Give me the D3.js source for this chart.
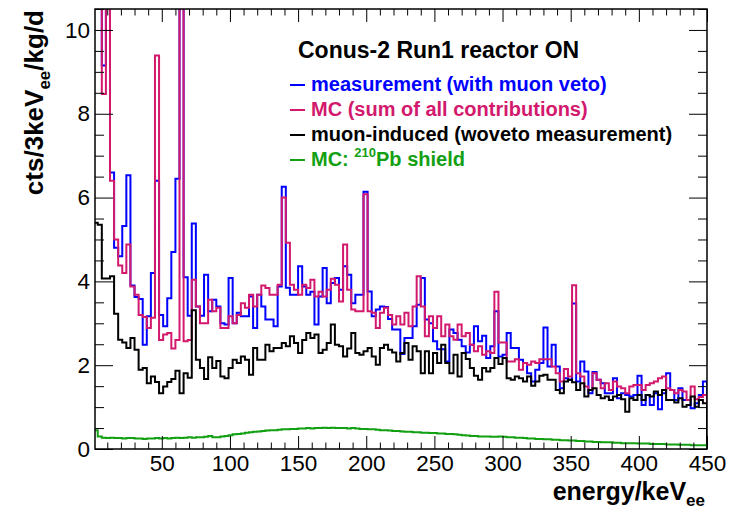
<!DOCTYPE html>
<html>
<head>
<meta charset="utf-8">
<script src="https://cdnjs.cloudflare.com/ajax/libs/d3/7.8.5/d3.min.js"></script>
<style>
  body { margin: 0; background: #fff; }
  text { font-family: "Liberation Sans", Arial, Helvetica, sans-serif; }
</style>
</head>
<body>
<div id="chart"></div>
<script>
// 3 keV bins from 0 to 450 keV, cts/3keV/kg/d
var binWidth = 3;

var measurement = [
  16, 12, 9.15, 11.5, 6.6, 4.8, 4.6, 5.32, 6.53, 3.9,
  3.63, 3.58, 2.49, 3.17, 4.2, 6.4, 3.2, 2.93, 3.6, 4.7,
  6.45, 13, 4.1, 3.18, 5.38, 3.4, 3.18, 4.16, 3.29, 3.56,
  3.4, 3.0, 2.97, 4.08, 3.0, 3.25, 3.17, 3.17, 3.64, 2.89,
  3.68, 3.4, 3.09, 3.09, 2.93, 3.88, 6.26, 3.85, 3.68, 3.68,
  4.36, 3.88, 3.68, 3.75, 2.97, 3.64, 4.32, 3.48, 3.96, 4.08,
  3.8, 4.36, 4.16, 3.48, 3.68, 3.68, 6.14, 3.76, 3.17, 3.33,
  3.4, 3.39, 3.1, 2.85, 2.85, 2.27, 2.65, 2.65, 2.93, 3.44,
  4.08, 3.09, 3.0, 2.57, 2.38, 2.38, 2.09, 2.85, 2.77, 2.61,
  2.45, 2.3, 2.49, 2.93, 2.57, 2.7, 2.17, 2.45, 3.29, 2.21,
  2.25, 2.77, 2.41, 2.41, 2.13, 2.05, 1.81, 1.61, 1.89, 2.05,
  2.9, 1.97, 2.49, 1.97, 1.45, 1.69, 1.65, 3.47, 1.61, 2.09,
  1.85, 1.33, 1.84, 1.65, 1.57, 1.33, 1.33, 1.69, 1.21, 1.33,
  1.29, 1.25, 1.29, 1.75, 1.05, 1.29, 1.05, 1.33, 0.95, 1.33,
  1.81, 1.41, 1.17, 1.45, 1.17, 1.17, 0.97, 1.09, 1.29, 1.61
];

var mcSum = [
  16, 13, 8.47, 12, 6.4, 5.0, 4.38, 4.2, 4.88, 3.88,
  3.68, 3.2, 3.15, 2.89, 3.13, 9.39, 2.6, 2.73, 2.77, 2.4,
  2.6, 13, 2.57, 2.6, 4.04, 3.4, 3.0, 3.0, 3.56, 3.29,
  3.37, 2.89, 2.89, 3.17, 3.0, 3.2, 3.48, 3.37, 3.68, 3.4,
  3.68, 3.9, 3.84, 3.68, 3.68, 3.92, 6.0, 4.92, 3.92, 3.8,
  3.68, 3.92, 3.84, 4.04, 3.64, 3.75, 3.64, 3.8, 4.06, 3.92,
  3.52, 4.88, 3.8, 3.33, 3.29, 3.29, 6.08, 3.29, 3.25, 2.89,
  3.25, 3.37, 3.2, 2.97, 3.17, 2.97, 3.25, 2.93, 3.4, 4.12,
  3.4, 2.69, 3.17, 2.89, 3.17, 2.69, 2.97, 2.69, 2.61, 2.97,
  2.69, 2.77, 2.49, 2.33, 2.45, 2.25, 2.33, 2.29, 3.75, 2.54,
  2.54, 2.09, 2.09, 2.14, 1.89, 2.05, 2.01, 2.09, 2.05, 2.14,
  2.14, 2.14, 1.97, 1.81, 1.61, 1.91, 1.73, 3.91, 1.81, 1.73,
  1.49, 1.41, 1.81, 1.65, 1.45, 1.57, 1.41, 1.61, 1.49, 1.45,
  1.33, 1.49, 1.53, 1.53, 1.41, 1.53, 1.57, 1.61, 1.69, 1.73,
  1.45, 1.41, 1.33, 1.41, 1.37, 1.17, 1.49, 1.19, 1.24, 1.29
];

var muonInduced = [
  5.4, 5.35, 4.07, 4.07, 4.12, 3.23, 2.61, 2.54, 2.41, 2.65,
  2.37, 1.89, 1.93, 1.57, 1.73, 1.6, 1.33, 1.49, 1.6, 1.67,
  1.87, 1.33, 1.81, 1.7, 3.31, 2.13, 1.93, 1.67, 2.19, 1.93,
  2.1, 1.73, 1.69, 1.93, 2.13, 2.05, 2.21, 2.13, 1.77, 2.41,
  2.13, 2.13, 2.49, 2.33, 2.41, 2.41, 2.53, 2.45, 2.69, 2.53,
  2.29, 2.6, 2.77, 2.65, 2.73, 2.29, 2.37, 2.53, 2.97, 2.49,
  2.45, 2.21, 2.4, 2.77, 2.29, 2.25, 2.33, 2.41, 2.21, 2.01,
  2.41, 2.49, 2.37, 2.3, 2.09, 2.29, 2.53, 2.13, 2.45, 2.33,
  1.81, 2.33, 1.81, 2.29, 2.05, 2.49, 2.05, 1.81, 2.25, 1.73,
  2.29, 2.15, 1.93, 1.75, 1.65, 1.93, 1.85, 1.93, 2.17, 2.03,
  2.17, 1.69, 1.65, 1.73, 1.69, 1.61, 1.73, 1.51, 1.61, 1.75,
  1.77, 1.65, 1.65, 1.41, 1.33, 1.61, 1.65, 1.59, 1.41, 1.57,
  1.25, 1.41, 1.45, 1.29, 1.21, 1.25, 1.17, 1.25, 1.29, 1.19,
  0.89, 1.21, 1.17, 1.29, 1.17, 1.29, 1.25, 1.37, 1.29, 1.41,
  1.17, 1.17, 1.11, 1.21, 1.01, 1.05, 1.25, 1.01, 1.17, 1.09
];

var pb210Shield = [
  0.45, 0.3, 0.27, 0.26, 0.27, 0.26, 0.26, 0.25, 0.26, 0.26,
  0.25, 0.25, 0.24, 0.25, 0.25, 0.26, 0.25, 0.26, 0.25, 0.26,
  0.27, 0.26, 0.27, 0.28, 0.27, 0.28, 0.28, 0.29, 0.31, 0.28,
  0.28, 0.3, 0.31, 0.33, 0.35, 0.36, 0.37, 0.39, 0.4, 0.41,
  0.42, 0.43, 0.44, 0.45, 0.45, 0.46, 0.47, 0.47, 0.48, 0.48,
  0.49, 0.49, 0.5, 0.49, 0.5, 0.5, 0.51, 0.5, 0.51, 0.5,
  0.5, 0.5, 0.49, 0.5, 0.49, 0.48, 0.48, 0.47, 0.47, 0.46,
  0.45, 0.45, 0.44, 0.43, 0.43, 0.42, 0.41, 0.41, 0.4, 0.4,
  0.39, 0.39, 0.38, 0.38, 0.37, 0.37, 0.36, 0.36, 0.35, 0.34,
  0.33, 0.32, 0.31, 0.31, 0.3, 0.3, 0.3, 0.29, 0.29, 0.3,
  0.29, 0.28, 0.28, 0.27, 0.27, 0.26, 0.25, 0.25, 0.24, 0.24,
  0.23, 0.23, 0.22, 0.22, 0.21, 0.21, 0.2, 0.2, 0.19, 0.19,
  0.18, 0.18, 0.17, 0.17, 0.16, 0.16, 0.16, 0.15, 0.15, 0.14,
  0.14, 0.14, 0.14, 0.13, 0.13, 0.13, 0.12, 0.12, 0.12, 0.12,
  0.11, 0.11, 0.11, 0.1, 0.1, 0.1, 0.09, 0.09, 0.09, 0.09
];

var xMajorTicks = [50, 100, 150, 200, 250, 300, 350, 400, 450];
var yMajorTicks = [0, 2, 4, 6, 8, 10];

var legendTitle = 'Conus-2 Run1 reactor ON';
var series = [
  { name: 'measurement (with muon veto)', values: measurement, color: '#0000ff' },
  { name: 'MC (sum of all contributions)', values: mcSum, color: '#d3196d' },
  { name: 'muon-induced (woveto measurement)', values: muonInduced, color: '#000000' },
  { name: 'Pb shield', values: pb210Shield, color: '#13a013' }
];

var W = 738, H = 509;
var frame = { left: 95, right: 707, top: 9, bottom: 449 };

var x = d3.scaleLinear().domain([1, 450]).range([frame.left, frame.right]);
var y = d3.scaleLinear().domain([0, 10.5]).range([frame.bottom, frame.top]);

var xMinorTicks = d3.range(10, 451, 10).filter(function(d) { return d % 50 !== 0; });
var yMinorTicks = d3.range(0.5, 10.51, 0.5).filter(function(d) { return d % 2 !== 0; });

var svg = d3.select('#chart')
  .append('svg')
  .attr('width', W)
  .attr('height', H);

svg.append('clipPath').attr('id', 'frameclip')
  .append('rect')
  .attr('x', frame.left).attr('y', frame.top)
  .attr('width', frame.right - frame.left)
  .attr('height', frame.bottom - frame.top);

// step outline of a histogram, like ROOT "HIST"
function histPoints(values) {
  var pts = [[0, 0]];
  values.forEach(function(v, i) {
    pts.push([i * binWidth, v]);
    pts.push([(i + 1) * binWidth, v]);
  });
  pts.push([values.length * binWidth, 0]);
  return pts;
}

var line = d3.line()
  .x(function(d) { return x(d[0]); })
  .y(function(d) { return y(d[1]); });

var plot = svg.append('g').attr('clip-path', 'url(#frameclip)');

plot.selectAll('.hist')
  .data(series)
  .enter().append('path')
  .attr('class', 'hist')
  .attr('d', function(d) { return line(histPoints(d.values)); })
  .attr('fill', 'none')
  .attr('stroke', function(d) { return d.color; })
  .attr('stroke-width', 2)
  .attr('stroke-linejoin', 'miter');

// axes, ticks inside the frame on all four sides
function noLabels() { return ''; }

var axes = svg.append('g').attr('class', 'axes');

axes.append('g')
  .attr('transform', 'translate(0,' + frame.bottom + ')')
  .call(d3.axisBottom(x).tickValues(xMajorTicks).tickSize(-13).tickPadding(6));
axes.append('g')
  .attr('transform', 'translate(0,' + frame.bottom + ')')
  .call(d3.axisBottom(x).tickValues(xMinorTicks).tickSize(-6.5).tickFormat(noLabels));
axes.append('g')
  .attr('transform', 'translate(0,' + frame.top + ')')
  .call(d3.axisTop(x).tickValues(xMajorTicks).tickSize(-13).tickFormat(noLabels));
axes.append('g')
  .attr('transform', 'translate(0,' + frame.top + ')')
  .call(d3.axisTop(x).tickValues(xMinorTicks).tickSize(-6.5).tickFormat(noLabels));

axes.append('g')
  .attr('transform', 'translate(' + frame.left + ',0)')
  .call(d3.axisLeft(y).tickValues(yMajorTicks).tickSize(-18).tickPadding(5));
axes.append('g')
  .attr('transform', 'translate(' + frame.left + ',0)')
  .call(d3.axisLeft(y).tickValues(yMinorTicks).tickSize(-9).tickFormat(noLabels));
axes.append('g')
  .attr('transform', 'translate(' + frame.right + ',0)')
  .call(d3.axisRight(y).tickValues(yMajorTicks).tickSize(-18).tickFormat(noLabels));
axes.append('g')
  .attr('transform', 'translate(' + frame.right + ',0)')
  .call(d3.axisRight(y).tickValues(yMinorTicks).tickSize(-9).tickFormat(noLabels));

axes.selectAll('.domain').remove();
axes.selectAll('.tick line').attr('stroke', '#000').attr('stroke-width', 1);
axes.selectAll('.tick text')
  .attr('fill', '#000')
  .style('font-size', '22.5px')
  .style('font-family', '"Liberation Sans", Arial, sans-serif');

svg.append('rect')
  .attr('x', frame.left).attr('y', frame.top)
  .attr('width', frame.right - frame.left)
  .attr('height', frame.bottom - frame.top)
  .attr('fill', 'none')
  .attr('stroke', '#000')
  .attr('stroke-width', 1.5);

// axis titles
var xTitle = svg.append('text')
  .attr('x', 705).attr('y', 500)
  .attr('text-anchor', 'end')
  .style('font-size', '25px')
  .style('font-weight', 'bold');
xTitle.append('tspan').text('energy/keV');
xTitle.append('tspan').attr('dy', 6).style('font-size', '17px').text('ee');

var yTitle = svg.append('text')
  .attr('transform', 'translate(43,10) rotate(-90)')
  .attr('text-anchor', 'end')
  .style('font-size', '26px')
  .style('font-weight', 'bold');
yTitle.append('tspan').text('cts/3keV');
yTitle.append('tspan').attr('dy', 7).style('font-size', '17px').text('ee');
yTitle.append('tspan').attr('dy', -7).text('/kg/d');

// legend
var legend = svg.append('g').attr('class', 'legend');

legend.append('text')
  .attr('x', 298).attr('y', 58)
  .style('font-size', '23px')
  .style('font-weight', 'bold')
  .text(legendTitle);

var rows = legend.selectAll('.row')
  .data(series)
  .enter().append('g')
  .attr('class', 'row')
  .attr('transform', function(d, i) { return 'translate(0,' + (91 + i * 25) + ')'; });

rows.append('line')
  .attr('x1', 290).attr('x2', 305)
  .attr('y1', -6).attr('y2', -6)
  .attr('stroke', function(d) { return d.color; })
  .attr('stroke-width', 2);

rows.append('text')
  .attr('x', 311)
  .attr('fill', function(d) { return d.color; })
  .style('font-size', '20px')
  .style('font-weight', 'bold')
  .each(function(d, i) {
    var t = d3.select(this);
    if (i === 3) {
      t.append('tspan').text('MC: ');
      t.append('tspan').attr('dy', -9).style('font-size', '13px').text('210');
      t.append('tspan').attr('dy', 9).text(d.name);
    } else {
      t.text(d.name);
    }
  });
</script>
</body>
</html>
